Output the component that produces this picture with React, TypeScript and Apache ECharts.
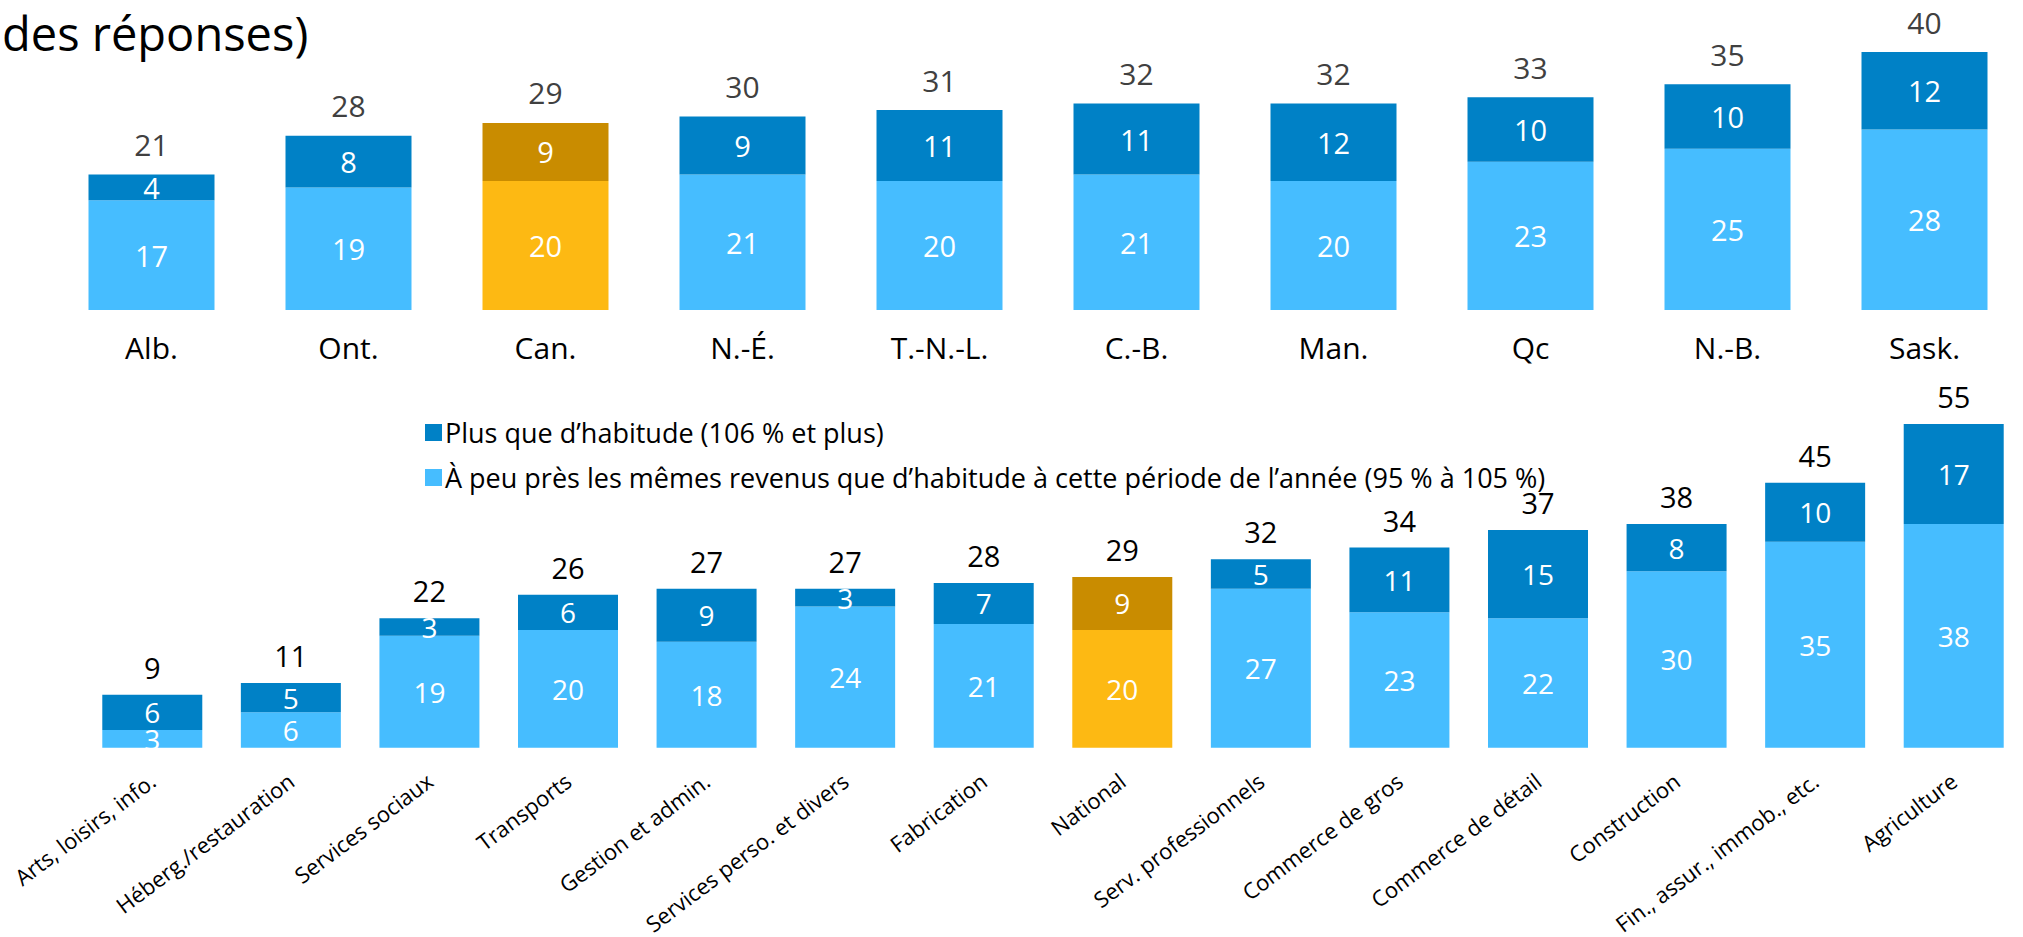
import React, { useEffect, useRef } from "react";
import * as echarts from "echarts";

const titleText = "des réponses)";

const topCats = ["Alb.", "Ont.", "Can.", "N.-É.", "T.-N.-L.", "C.-B.", "Man.", "Qc", "N.-B.", "Sask."];
const topSame = [17, 19, 20, 21, 20, 21, 20, 23, 25, 28];
const topMore = [4, 8, 9, 9, 11, 11, 12, 10, 10, 12];
const topTotal = [21, 28, 29, 30, 31, 32, 32, 33, 35, 40];
const topHighlight = "Can.";

const botCats = [
  "Arts, loisirs, info.",
  "Héberg./restauration",
  "Services sociaux",
  "Transports",
  "Gestion et admin.",
  "Services perso. et divers",
  "Fabrication",
  "National",
  "Serv. professionnels",
  "Commerce de gros",
  "Commerce de détail",
  "Construction",
  "Fin., assur., immob., etc.",
  "Agriculture",
];
const botSame = [3, 6, 19, 20, 18, 24, 21, 20, 27, 23, 22, 30, 35, 38];
const botMore = [6, 5, 3, 6, 9, 3, 7, 9, 5, 11, 15, 8, 10, 17];
const botTotal = [9, 11, 22, 26, 27, 27, 28, 29, 32, 34, 37, 38, 45, 55];
const botHighlight = "National";

const seriesMore = "Plus que d’habitude (106 % et plus)";
const seriesSame = "À peu près les mêmes revenus que d’habitude à cette période de l’année (95 % à 105 %)";

const C_DARK = "#0081C6";
const C_LIGHT = "#46BDFF";
const C_GOLD_DARK = "#C98C00";
const C_GOLD_LIGHT = "#FDB913";
const FONT = "'Open Sans', 'Noto Sans', sans-serif";

function colored(values: number[], cats: string[], hl: string, hlColor: string) {
  return values.map((v, i) => (cats[i] === hl ? { value: v, itemStyle: { color: hlColor } } : v));
}

export default function App() {
  const ref = useRef<HTMLDivElement>(null);
  useEffect(() => {
    if (!ref.current) return;
    const chart = echarts.init(ref.current, null, { renderer: "svg" });
    const innerLabel = (size: number) => ({
      show: true,
      position: "inside",
      color: "#fff",
      fontSize: size,
      fontFamily: FONT,
    });
    chart.setOption({
      animation: false,
      textStyle: { fontFamily: FONT },
      graphic: [
        {
          type: "text",
          x: 2,
          y: 33,
          style: {
            text: titleText,
            font: `47px ${FONT}`,
            fill: "#000",
            verticalAlign: "middle",
          },
        },
      ],
      legend: {
        data: [seriesMore, seriesSame],
        orient: "vertical",
        left: 425,
        top: 419,
        itemWidth: 17,
        itemHeight: 17,
        itemGap: 18,
        padding: 0,
        selectedMode: false,
        icon: "rect",
        textStyle: { fontSize: 27, lineHeight: 22, color: "#000", fontFamily: FONT, padding: [0, 0, 0, -2] },
      },
      grid: [
        { left: 53, top: 52, width: 2009, height: 258 },
        { left: 83, top: 424, width: 1975, height: 331 },
      ],
      xAxis: [
        {
          type: "category",
          gridIndex: 0,
          data: topCats,
          axisLine: { show: false },
          axisTick: { show: false },
          axisLabel: { fontSize: 30, color: "#000", margin: 22, fontFamily: FONT, interval: 0 },
        },
        {
          type: "category",
          gridIndex: 1,
          data: botCats,
          axisLine: { show: false },
          axisTick: { show: false },
          axisLabel: { fontSize: 22, color: "#000", margin: 30, rotate: 37, fontFamily: FONT, interval: 0 },
        },
      ],
      yAxis: [
        { type: "value", gridIndex: 0, min: 0, max: 40, show: false, splitLine: { show: false } },
        { type: "value", gridIndex: 1, min: 0, max: 55, show: false, splitLine: { show: false } },
      ],
      series: [
        {
          name: seriesSame,
          type: "bar",
          xAxisIndex: 0,
          yAxisIndex: 0,
          stack: "top",
          barWidth: 126,
          itemStyle: { color: C_LIGHT },
          label: innerLabel(29),
          data: colored(topSame, topCats, topHighlight, C_GOLD_LIGHT),
        },
        {
          name: seriesMore,
          type: "bar",
          xAxisIndex: 0,
          yAxisIndex: 0,
          stack: "top",
          barWidth: 126,
          itemStyle: { color: C_DARK },
          label: innerLabel(29),
          data: colored(topMore, topCats, topHighlight, C_GOLD_DARK),
        },
        {
          name: "totalTop",
          type: "bar",
          xAxisIndex: 0,
          yAxisIndex: 0,
          stack: "top",
          barWidth: 126,
          silent: true,
          itemStyle: { color: "rgba(0,0,0,0)" },
          label: {
            show: true,
            position: "top",
            distance: 15,
            color: "#404040",
            fontSize: 30,
            fontFamily: FONT,
            formatter: (p: any) => String(topTotal[p.dataIndex]),
          },
          data: topTotal.map(() => 0),
        },
        {
          name: seriesSame,
          type: "bar",
          xAxisIndex: 1,
          yAxisIndex: 1,
          stack: "bot",
          barWidth: 100,
          itemStyle: { color: C_LIGHT },
          label: innerLabel(28),
          data: colored(botSame, botCats, botHighlight, C_GOLD_LIGHT),
        },
        {
          name: seriesMore,
          type: "bar",
          xAxisIndex: 1,
          yAxisIndex: 1,
          stack: "bot",
          barWidth: 100,
          itemStyle: { color: C_DARK },
          label: innerLabel(28),
          data: colored(botMore, botCats, botHighlight, C_GOLD_DARK),
        },
        {
          name: "totalBot",
          type: "bar",
          xAxisIndex: 1,
          yAxisIndex: 1,
          stack: "bot",
          barWidth: 100,
          silent: true,
          itemStyle: { color: "rgba(0,0,0,0)" },
          label: {
            show: true,
            position: "top",
            distance: 13,
            color: "#000",
            fontSize: 29,
            fontFamily: FONT,
            formatter: (p: any) => String(botTotal[p.dataIndex]),
          },
          data: botTotal.map(() => 0),
        },
      ],
    });
    return () => chart.dispose();
  }, []);
  return (
    <div
      ref={ref}
      style={{ position: "absolute", left: 0, top: 0, width: 2023, height: 937, background: "#fff" }}
    />
  );
}
